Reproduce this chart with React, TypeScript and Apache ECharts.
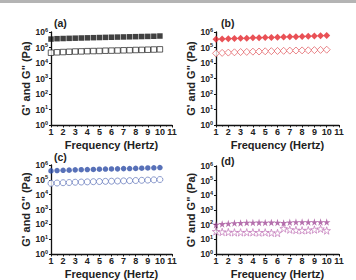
import React, { useEffect, useRef } from "react";
import * as echarts from "echarts";

// Oscillation frequency (Hz) for every sweep point
const frequency = [1, 1.5, 2, 2.5, 3, 3.5, 4, 4.5, 5, 5.5, 6, 6.5, 7, 7.5, 8, 8.5, 9, 9.5, 10];

// Storage (G') and loss (G") moduli in Pa for the four samples
const storageA = [3.5e5, 3.7e5, 3.8e5, 3.9e5, 4.0e5, 4.1e5, 4.2e5, 4.3e5, 4.4e5, 4.5e5, 4.6e5, 4.7e5, 4.8e5, 4.9e5, 5.0e5, 5.1e5, 5.2e5, 5.3e5, 5.5e5];
const lossA = [4.6e4, 4.9e4, 5.1e4, 5.3e4, 5.5e4, 5.6e4, 5.8e4, 5.9e4, 6.0e4, 6.2e4, 6.3e4, 6.4e4, 6.6e4, 6.7e4, 6.9e4, 7.0e4, 7.2e4, 7.4e4, 7.6e4];
const storageB = [3.4e5, 3.6e5, 3.7e5, 3.8e5, 3.9e5, 4.0e5, 4.2e5, 4.3e5, 4.4e5, 4.5e5, 4.6e5, 4.8e5, 4.9e5, 5.0e5, 5.2e5, 5.3e5, 5.5e5, 5.7e5, 5.9e5];
const lossB = [4.2e4, 4.5e4, 4.7e4, 4.9e4, 5.1e4, 5.2e4, 5.4e4, 5.5e4, 5.7e4, 5.8e4, 6.0e4, 6.1e4, 6.3e4, 6.4e4, 6.5e4, 6.6e4, 6.8e4, 7.0e4, 7.2e4];
const storageC = [4.0e5, 4.2e5, 4.4e5, 4.5e5, 4.7e5, 4.8e5, 4.9e5, 5.0e5, 5.2e5, 5.3e5, 5.4e5, 5.5e5, 5.7e5, 5.8e5, 5.9e5, 6.1e5, 6.3e5, 6.5e5, 6.7e5];
const lossC = [5.8e4, 6.1e4, 6.4e4, 6.6e4, 6.9e4, 7.1e4, 7.3e4, 7.5e4, 7.7e4, 7.9e4, 8.1e4, 8.3e4, 8.5e4, 8.8e4, 9.0e4, 9.3e4, 9.6e4, 1.0e5, 1.05e5];
const storageD = [100, 112, 120, 128, 132, 138, 140, 142, 140, 142, 140, 132, 145, 150, 152, 150, 152, 150, 152];
const lossD = [35, 32, 31, 30, 30, 30, 30, 29, 30, 28, 27, 55, 46, 43, 41, 42, 46, 52, 40];

const panelLetters = ["(a)", "(b)", "(c)", "(d)"];
const xTicks = [1, 2, 3, 4, 5, 6, 7, 8, 9, 10, 11];

const STAR =
  "path://M50,0 L61,35 L98,35 L68,57 L79,91 L50,70 L21,91 L32,57 L2,35 L39,35 Z";

const FONT = "Liberation Sans, Arial, sans-serif";

export default function App() {
  const ref = useRef<HTMLDivElement>(null);

  useEffect(() => {
    if (!ref.current) return;
    const chart = echarts.init(ref.current, null, { renderer: "svg" });

    // plot boxes: left, top, width, height
    const boxes = [
      [51, 32, 121, 93],
      [216, 32, 123, 93],
      [51, 165, 121, 92],
      [216, 166, 123, 92],
    ];

    const grids = boxes.map(([l, t, w, h]) => ({ left: l, top: t, width: w, height: h }));

    const xAxes = boxes.map((_, i) => ({
      type: "value" as const,
      gridIndex: i,
      min: 1,
      max: 11,
      interval: 1,
      name: "Frequency (Hertz)",
      nameLocation: "middle" as const,
      nameGap: 14,
      nameTextStyle: { fontFamily: FONT, fontWeight: "bold" as const, fontSize: 11, color: "#222" },
      axisLine: { show: true, lineStyle: { color: "#111", width: 1.3 } },
      axisTick: { show: true, inside: false, length: 2.5, lineStyle: { color: "#111" } },
      minorTick: { show: true, splitNumber: 2, length: 1.5, lineStyle: { color: "#111" } },
      splitLine: { show: false },
      axisLabel: {
        margin: 2,
        fontFamily: FONT,
        fontWeight: "bold" as const,
        fontSize: 9,
        color: "#222",
        formatter: (v: number) => (xTicks.includes(v) ? String(v) : ""),
      },
    }));

    const yAxes = boxes.map((_, i) => ({
      type: "log" as const,
      gridIndex: i,
      logBase: 10,
      min: 1,
      max: 1e6,
      name: 'G\' and G" (Pa)',
      nameLocation: "middle" as const,
      nameGap: 18,
      nameRotate: 90,
      nameTextStyle: { fontFamily: FONT, fontWeight: "bold" as const, fontSize: 11, color: "#222" },
      axisLine: { show: true, lineStyle: { color: "#111", width: 1.3 } },
      axisTick: { show: true, inside: false, length: 2, lineStyle: { color: "#111" } },
      minorTick: { show: false },
      splitLine: { show: false },
      axisLabel: {
        margin: 3,
        fontFamily: FONT,
        formatter: (v: number) => `{b|10}{s|${Math.round(Math.log10(v))}}`,
        rich: {
          b: { fontSize: 8.5, fontWeight: "bold", color: "#222", fontFamily: FONT },
          s: {
            fontSize: 5.5,
            fontWeight: "bold",
            color: "#222",
            fontFamily: FONT,
            verticalAlign: "top",
            padding: [0, 0, 5, 0],
          },
        },
      },
    }));

    const pts = (vals: number[]) => frequency.map((f, k) => [f, vals[k]]);

    const scatter = (
      idx: number,
      vals: number[],
      symbol: string,
      size: number,
      color: string,
      hollow: boolean
    ) => ({
      type: "scatter" as const,
      xAxisIndex: idx,
      yAxisIndex: idx,
      data: pts(vals),
      symbol,
      symbolSize: size,
      itemStyle: hollow
        ? { color: "#fff", borderColor: color, borderWidth: 0.9 }
        : { color, borderWidth: 0 },
      z: hollow ? 2 : 3,
    });

    const series = [
      scatter(0, storageA, "rect", 5.5, "#111111", false),
      scatter(0, lossA, "rect", 5.5, "#222222", true),
      scatter(1, storageB, "diamond", 7, "#e3262c", false),
      scatter(1, lossB, "diamond", 7, "#e0575c", true),
      scatter(2, storageC, "circle", 5.5, "#2e4ea6", false),
      scatter(2, lossC, "circle", 6, "#5d72b8", true),
      scatter(3, storageD, STAR, 7.5, "#a24c98", false),
      scatter(3, lossD, STAR, 7.5, "#c277b8", true),
    ];

    const letterPos = [
      [54, 17],
      [221, 17],
      [54, 151],
      [221, 155],
    ];

    const graphic = [
      { type: "rect", left: 0, top: 0, shape: { x: 0, y: 0, width: 356, height: 3 }, style: { fill: "#b4b4b4" } },
      ...panelLetters.map((t, i) => ({
        type: "text",
        x: letterPos[i][0],
        y: letterPos[i][1],
        style: { text: t, fontFamily: FONT, fontWeight: "bold", fontSize: 10.5, fill: "#222" },
      })),
    ];

    chart.setOption({
      animation: false,
      backgroundColor: "#ffffff",
      grid: grids,
      xAxis: xAxes,
      yAxis: yAxes,
      series,
      graphic,
    });

    return () => chart.dispose();
  }, []);

  return (
    <div
      ref={ref}
      style={{ position: "fixed", left: 0, top: 0, width: 356, height: 280, background: "#fff" }}
    />
  );
}
